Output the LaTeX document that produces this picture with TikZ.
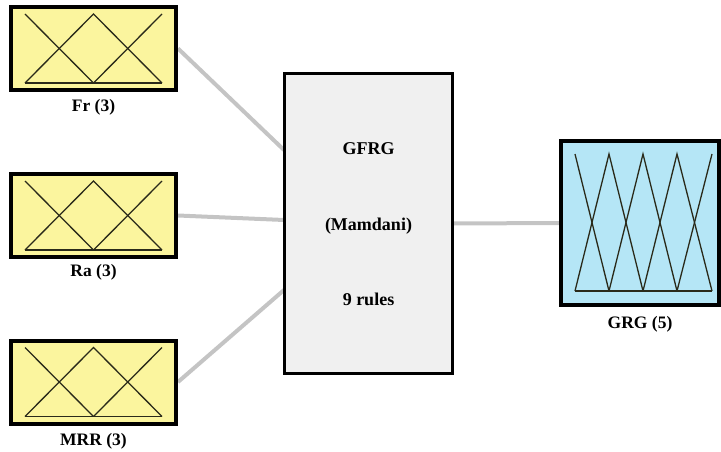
\documentclass[tikz,border=0pt]{standalone}
\usepackage{fontspec}
\setmainfont{Liberation Serif}
\definecolor{inyellow}{HTML}{FBF59E}
\definecolor{outblue}{HTML}{B5E6F6}
\definecolor{midgray}{HTML}{F0F0F0}
\definecolor{linkgray}{HTML}{C4C4C4}
\definecolor{mfline}{HTML}{2A2A1A}
\begin{document}
\begin{tikzpicture}[x=1pt,y=-1pt,
  inbox/.style={draw=black,line width=4pt,fill=inyellow,minimum width=165pt,minimum height=83pt,inner sep=0pt},
  outbox/.style={draw=black,line width=4pt,fill=outblue,minimum width=158pt,minimum height=164pt,inner sep=0pt},
  midbox/.style={draw=black,line width=3pt,fill=midgray,minimum width=168pt,minimum height=300pt,inner sep=0pt},
  lbl/.style={font=\bfseries\fontsize{17.5}{19}\selectfont},
  midtxt/.style={font=\bfseries\fontsize{18}{20}\selectfont},
  mf/.style={draw=mfline,line width=1.3pt},
  link/.style={draw=linkgray,line width=4pt}]
\useasboundingbox (0,0) rectangle (721,452);
% boxes
\node[inbox] (fr) at (93.5,48.5) {};
\node[inbox] (ra) at (93.5,215.5) {};
\node[inbox] (mrr) at (93.5,382) {};
\node[midbox] (mid) at (368.5,223.5) {};
\node[outbox] (grg) at (640,223) {};
% connectors
\coordinate (m1) at (284,150);
\coordinate (m2) at (284,220);
\coordinate (m3) at (284,290);
\draw[link] (fr.east) -- (m1);
\draw[link] (ra.east) -- (m2);
\draw[link] (mrr.east) -- (m3);
\draw[link] (mid.east) -- (grg.west);
% redraw box borders over connector ends
\node[inbox,fill=none] at (fr) {};
\node[inbox,fill=none] at (ra) {};
\node[inbox,fill=none] at (mrr) {};
\node[midbox,fill=none] at (mid) {};
\node[outbox,fill=none] at (grg) {};
% input membership functions
\foreach \n in {fr,ra,mrr}{
  \begin{scope}[shift={(\n.center)}]
    \draw[mf] (-68.5,-34.5) -- (0,34.5);
    \draw[mf] (-68.5,34.5) -- (0,-34.5) -- (68.5,34.5);
    \draw[mf] (0,34.5) -- (68.5,-34.5);
    \draw[mf] (-68.5,34.5) -- (68.5,34.5);
  \end{scope}
}
% output membership functions
\begin{scope}[shift={(grg.center)}]
  \draw[mf] (-65,-69) -- (-31,68);
  \draw[mf] (-65,68) -- (-31,-69) -- (3,68);
  \draw[mf] (-31,68) -- (3,-69) -- (37,68);
  \draw[mf] (3,68) -- (37,-69) -- (72,68);
  \draw[mf] (37,68) -- (72,-69);
  \draw[mf] (-65,68) -- (72,68);
\end{scope}
% labels
\node[lbl] (lfr) at (93.5,107) {Fr (3)};
\node[lbl] (lra) at (93.5,272) {Ra (3)};
\node[lbl] (lmrr) at (93.5,441.5) {MRR (3)};
\node[lbl] (lgrg) at (640,324) {GRG (5)};
\node[midtxt] (t1) at (368.5,149) {GFRG};
\node[midtxt] (t2) at (368.5,226) {(Mamdani)};
\node[midtxt] (t3) at (368.5,299) {9 rules};
\end{tikzpicture}
\end{document}
